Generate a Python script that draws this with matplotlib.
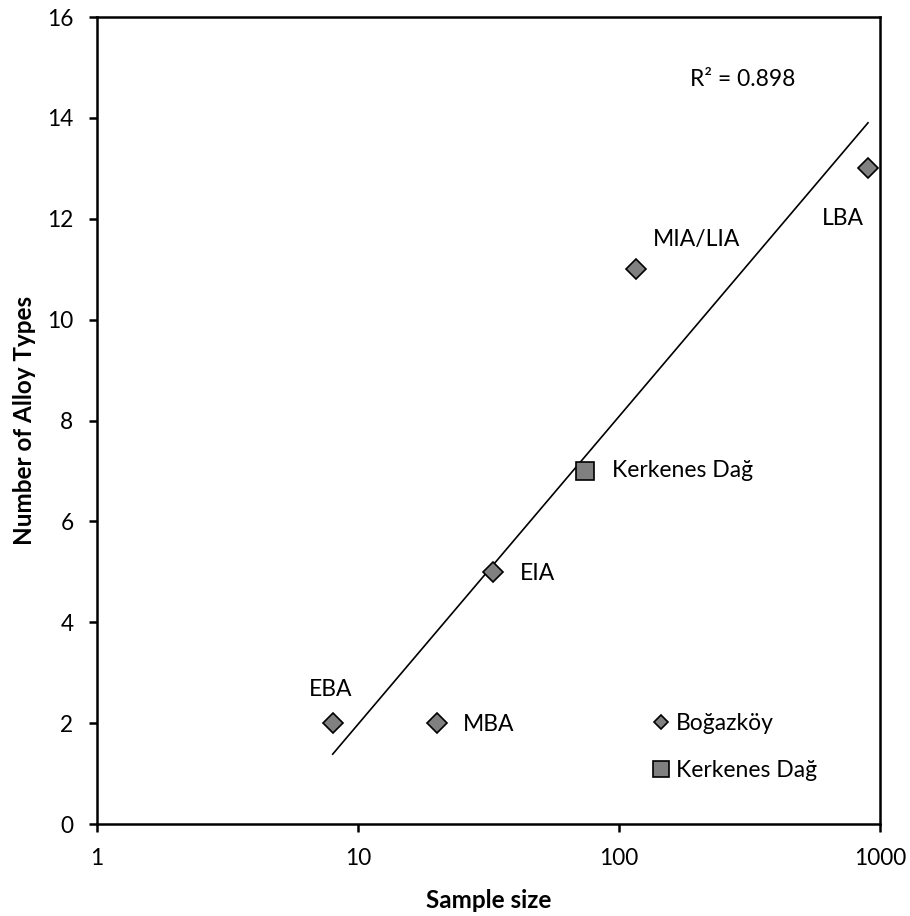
import numpy as np
import matplotlib.pyplot as plt
from matplotlib.lines import Line2D

plt.rcParams['font.family'] = ['Lato', 'DejaVu Sans']

# Boğazköy periods
periods = ['EBA', 'MBA', 'EIA', 'MIA/LIA', 'LBA']
bog_size = [8, 20, 33, 116, 900]
bog_types = [2, 2, 5, 11, 13]

# Kerkenes Dağ
ker_size = [74]
ker_types = [7]

r2_text = 'R² = 0.898'

all_x = np.array(bog_size + ker_size, dtype=float)
all_y = np.array(bog_types + ker_types, dtype=float)

# log trend line through all points
slope, icpt = np.polyfit(np.log10(all_x), all_y, 1)
xt = np.logspace(np.log10(all_x.min()), np.log10(all_x.max()), 50)

fig = plt.figure(figsize=(9.1, 9.16), dpi=100)
ax = fig.add_axes([0.1066, 0.1004, 0.8604, 0.881])

grey = '#808080'
ax.plot(xt, slope * np.log10(xt) + icpt, color='black', lw=1.2, zorder=2)
ax.plot(bog_size, bog_types, ls='none', marker='D', ms=9.8, mfc=grey,
        mec='black', mew=1.2, zorder=3)
ax.plot(ker_size, ker_types, ls='none', marker='s', ms=12.5, mfc=grey,
        mec='black', mew=1.2, zorder=3)

# point labels (offsets in points)
offs = {'EBA': (-1.5, 24, 'center'), 'MBA': (19, -1, 'left'), 'EIA': (19, -1, 'left'),
        'MIA/LIA': (12, 21.5, 'left'), 'LBA': (-3, -36, 'right')}
for p, xv, yv in zip(periods, bog_size, bog_types):
    dx, dy, ha = offs[p]
    ax.annotate(p, (xv, yv), xytext=(dx, dy), textcoords='offset points',
                ha=ha, va='center', fontsize=16.5)
ax.annotate('Kerkenes Dağ', (ker_size[0], ker_types[0]), xytext=(19.5, 0),
            textcoords='offset points', ha='left', va='center', fontsize=16.5)

ax.text(0.825, 0.923, r2_text, transform=ax.transAxes, fontsize=16.5,
        ha='center', va='center')

ax.set_xscale('log')
ax.set_xlim(1, 1000)
ax.set_ylim(0, 16)
ax.set_yticks(range(0, 17, 2))
ax.set_xticks([1, 10, 100, 1000])
ax.set_xticklabels(['1', '10', '100', '1000'])
ax.minorticks_off()
ax.tick_params(axis='both', labelsize=16.3, width=1.8, length=6, direction='out')
ax.tick_params(axis='x', pad=11)
ax.tick_params(axis='y', pad=11)
for s in ax.spines.values():
    s.set_linewidth(1.8)

ax.set_xlabel('Sample size', fontsize=17.5, fontweight='bold', labelpad=15)
ax.set_ylabel('Number of Alloy Types', fontsize=17.5, fontweight='bold', labelpad=8)

handles = [Line2D([], [], ls='none', marker='D', ms=7.3, mfc=grey, mec='black', mew=1.2),
           Line2D([], [], ls='none', marker='s', ms=11, mfc=grey, mec='black', mew=1.2)]
ax.legend(handles, ['Boğazköy', 'Kerkenes Dağ'], loc='center left',
          bbox_to_anchor=(0.709, 0.0954), frameon=False, fontsize=16.5,
          handlelength=0.8, handletextpad=0.22, labelspacing=1.15,
          borderpad=0, borderaxespad=0)

fig.savefig('out.png', dpi=100)
